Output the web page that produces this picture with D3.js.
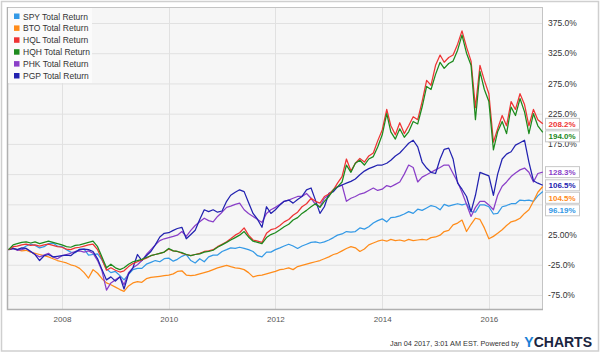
<!DOCTYPE html>
<html>
<head>
<meta charset="utf-8">
<script src="https://cdn.jsdelivr.net/npm/d3@7"></script>
<style>
  html, body { margin: 0; padding: 0; background: #fff; }
  svg { display: block; font-family: "Liberation Sans", Arial, sans-serif; }
</style>
</head>
<body>
<div id="chart"></div>
<script>
// Monthly total return (%) from Jan 2007, last point Jan 04 2017
const seriesNames = ['SPY', 'BTO', 'HQL', 'HQH', 'PHK', 'PGP'];
const seriesColors = ['#3399e6', '#ff8c1a', '#ee3434', '#1d8a1d', '#8a3fc8', '#2222b0'];

const spy = [
  0, 2, 0, 1, 6, 9, 7, 3, 5, 10, 11, 6,
  5, 0, -4, -5, 1, 1, -9, -8, -7, -17, -32, -38,
  -36, -43, -50, -41, -33, -31, -31, -24, -21, -18, -20, -15,
  -14, -19, -16, -11, -8, -18, -22, -15, -20, -12, -9, -9,
  -3, 0, 3, 2, 4, 2, 0, -3, -10, -12, -4, -4,
  0, 3, 6, 9, 6, 2, 6, 9, 12, 13, 11, 13,
  16, 20, 24, 26, 30, 29, 30, 36, 34, 38, 44, 48,
  51, 46, 53, 54, 56, 59, 63, 60, 67, 65, 69, 73,
  71, 66, 75, 72, 74, 76, 74, 76, 63, 62, 74, 74,
  71, 59, 60, 71, 73, 76, 76, 82, 81, 82, 80, 89,
  96.19
];
const bto = [
  0, 2, 0, -2, -1, -4, -6, -8, -10, -12, -15, -18,
  -20, -22, -25, -27, -31, -38, -47, -33, -39, -48, -55, -58,
  -62, -66, -69, -60, -55, -53, -54, -48, -46, -45, -44, -43,
  -42, -40, -36, -35, -42, -43, -42, -40, -38, -36, -33, -30,
  -28, -26, -28, -30, -31, -33, -38, -45, -43, -42, -40, -38,
  -36, -33, -32, -30, -33, -28, -26, -24, -22, -20, -18, -15,
  -12, -8, -6, -2, 2, 5, 3, -3, 1, 8, 11, 14,
  16, 14, 17, 15, 16, 14, 17, 15, 16, 17, 16, 20,
  21, 24, 30, 32, 41, 44, 49, 30, 42, 52, 50, 36,
  18, 22, 27, 33, 40, 46, 48, 52, 60, 66, 80, 95,
  104.5
];
const hql = [
  0, 5, 6, 8, 9, 7, 8, 6, 8, 9, 7, 5,
  4, 1, 0, 3, 4, 6, 8, 9, 0, -16, -34, -30,
  -34, -37, -35, -28, -23, -20, -17, -14, -10, -8, -6, -4,
  1, -2, -3, -6, -8, -10, -8, -6, -3, -2, 0, 5,
  9, 13, 18, 24, 28, 36, 24, 16, 14, 12, 27, 33,
  35, 40, 46, 50, 57, 62, 71, 76, 85, 80, 77, 88,
  92, 99, 110, 121, 150, 130, 143, 151, 145, 155, 160, 180,
  198, 232, 205, 190, 210, 192, 205, 220, 215, 245, 280, 272,
  305, 322, 310, 318, 322, 340, 362, 335, 312, 235, 305, 280,
  258, 178, 200, 222, 205, 245, 232, 258, 240, 205, 232, 215,
  208.2
];
const hqh = [
  0, 8, 10, 12, 13, 11, 13, 10, 12, 14, 12, 10,
  8, 5, 4, 7, 8, 10, 12, 14, 5, -12, -30, -24,
  -30, -33, -30, -24, -20, -18, -16, -13, -10, -8, -6, -4,
  2, -2, -3, -5, -8, -10, -8, -7, -4, -3, -1, 4,
  8, 12, 16, 20, 24, 30, 21, 14, 12, 10, 20, 25,
  28, 33, 38, 42, 49, 53, 60, 65, 71, 76, 70, 80,
  88, 99, 104, 112, 140, 128, 143, 148, 140, 150, 154, 170,
  190, 225, 195, 183, 200, 186, 195, 212, 208, 236, 270, 265,
  290, 310, 300, 308, 312, 330, 355, 325, 305, 215, 295, 265,
  245, 165, 195, 212, 192, 236, 222, 250, 228, 192, 225, 205,
  194.0
];
const phk = [
  0, 2, -1, 0, 2, -3, -8, -12, -9, -6, -12, -15,
  -10, -8, -6, -3, -2, -4, -2, -6, -18, -35, -67, -55,
  -50, -45, -58, -38, -30, -25, -18, -8, 0, 8, 15, 18,
  20, 22, 24, 30, 22, 32, 40, 46, 52, 48, 46, 55,
  62, 70, 72, 75, 77, 66, 60, 55, 50, 45, 60, 66,
  70, 75, 80, 82, 85, 88, 88, 93, 85, 75, 71, 85,
  90, 99, 104, 107, 80, 85, 88, 92, 94, 98, 102, 98,
  100, 106, 104, 108, 112, 125, 140, 136, 112, 120, 124, 128,
  132, 136, 140, 140, 126, 112, 95, 75, 55, 70, 80, 80,
  74, 66, 90, 105, 112, 121, 127, 132, 135, 128, 112, 126,
  128.3
];
const pgp = [
  0, 2, 0, 3, 2, -3, -8, -18, -10, -8, -12, -11,
  -10, -9, -10, -4, 0, 1, 0, -3, -15, -33, -50, -45,
  -52, -45, -65, -40, -30, -8, -18, -10, -3, 8, 21, 27,
  28, 32, 35, 37, 18, 25, 32, 50, 66, 63, 66, 62,
  64, 80, 90, 95, 99, 96, 78, 60, 50, 37, 71, 60,
  66, 74, 80, 82, 77, 83, 88, 99, 102, 82, 60, 71,
  93, 96, 104, 107, 110, 113, 117, 124, 130, 134, 137, 140,
  140, 143, 148, 155, 160, 168, 176, 181, 170, 145, 135, 128,
  126, 150, 166, 168, 150, 110, 100, 88, 63, 90, 128, 125,
  122, 90, 125, 150, 158, 162, 173, 177, 181, 145, 114, 110,
  106.5
];
const endLabels = ['96.19%', '104.5%', '208.2%', '194.0%', '128.3%', '106.5%'];

// grid lines every 50%; the 75% and 125% labels sit under the end-value boxes
const yTicks = [-75, -25, 25, 75, 125, 175, 225, 275, 325, 375];
const yLabelTicks = [-75, -25, 25, 175, 225, 275, 325, 375];
const yTickLabels = ['-75.0%', '-25.0%', '25.00%', '175.0%', '225.0%', '275.0%', '325.0%', '375.0%'];
const xTickYears = [2008, 2010, 2012, 2014, 2016];

const startDate = new Date(2007, 0, 1);
const endDate = new Date(2017, 0, 4);

const W = 600, H = 353;
const plot = { left: 7, right: 543, top: 7, bottom: 310 };

const allValues = [spy, bto, hql, hqh, phk, pgp];
const dates = spy.map((_, i) => (i === spy.length - 1 ? endDate : d3.timeMonth.offset(startDate, i)));

const x = d3.scaleTime().domain([startDate, endDate]).range([8.6, 542.8]);
const y = d3.scaleLinear().domain([-75, 375]).range([295, 23]);

const svg = d3.select('#chart').append('svg').attr('width', W).attr('height', H);

// outer frame
svg.append('rect')
  .attr('x', 1.5).attr('y', 1.5).attr('width', W - 3).attr('height', H - 3.5)
  .attr('fill', '#fff').attr('stroke', '#cfcfcf').attr('stroke-width', 1.5);

// plot background
svg.append('rect')
  .attr('x', plot.left).attr('y', plot.top)
  .attr('width', plot.right - plot.left).attr('height', plot.bottom - plot.top)
  .attr('fill', '#f6f6f6');

// grid
const xTickDates = xTickYears.map((yr) => new Date(yr, 0, 1));
svg.append('g')
  .selectAll('line')
  .data(yTicks)
  .join('line')
  .attr('x1', plot.left).attr('x2', plot.right)
  .attr('y1', (d) => y(d) + 0.5).attr('y2', (d) => y(d) + 0.5)
  .attr('stroke', '#e1e1e1').attr('stroke-width', 1);
svg.append('g')
  .selectAll('line')
  .data(xTickDates)
  .join('line')
  .attr('x1', (d) => Math.round(x(d)) + 0.5).attr('x2', (d) => Math.round(x(d)) + 0.5)
  .attr('y1', plot.top).attr('y2', plot.bottom)
  .attr('stroke', '#e1e1e1').attr('stroke-width', 1);

// plot border
svg.append('rect')
  .attr('x', plot.left + 0.5).attr('y', plot.top + 0.5)
  .attr('width', plot.right - plot.left - 1).attr('height', plot.bottom - plot.top - 1)
  .attr('fill', 'none').attr('stroke', '#c4c4c4').attr('stroke-width', 1);
svg.append('path')
  .attr('d', `M${plot.left + 0.5},${plot.top}V${plot.bottom - 0.5}H${plot.right}`)
  .attr('fill', 'none').attr('stroke', '#b0b0b0').attr('stroke-width', 1.5);

// axes
svg.append('g')
  .attr('transform', `translate(0,${plot.bottom})`)
  .call(d3.axisBottom(x).tickValues(xTickDates).tickFormat(d3.timeFormat('%Y')).tickSize(0).tickPadding(6))
  .call((g) => g.select('.domain').remove())
  .call((g) => g.selectAll('text').attr('fill', '#555').style('font-size', '8px'));

svg.append('g')
  .attr('transform', `translate(${plot.right + 2},0)`)
  .call(d3.axisRight(y).tickValues(yLabelTicks).tickFormat((d, i) => yTickLabels[i]).tickSize(0).tickPadding(3))
  .call((g) => g.select('.domain').remove())
  .call((g) => g.selectAll('text').attr('fill', '#333').style('font-size', '8.5px'));

// lines
const line = d3.line().x((d, i) => x(dates[i])).y((d) => y(d));
const drawOrder = [0, 1, 4, 5, 2, 3];
svg.append('g')
  .selectAll('path')
  .data(drawOrder)
  .join('path')
  .attr('d', (k) => line(allValues[k]))
  .attr('fill', 'none')
  .attr('stroke', (k) => seriesColors[k])
  .attr('stroke-width', 1.25)
  .attr('stroke-linejoin', 'round');

// end value boxes, pushed apart so they do not overlap
const boxes = allValues
  .map((vals, k) => ({ k, y: y(vals[vals.length - 1]) }))
  .sort((a, b) => a.y - b.y);
const gap = 12.5;
for (let i = 1; i < boxes.length; i++) {
  if (boxes[i].y - boxes[i - 1].y < gap) boxes[i].y = boxes[i - 1].y + gap;
}
const boxG = svg.append('g')
  .selectAll('g')
  .data(boxes)
  .join('g')
  .attr('transform', (d) => `translate(${plot.right + 2},${d.y})`);
boxG.append('rect')
  .attr('x', 0.5).attr('y', -5.5).attr('width', 34).attr('height', 11)
  .attr('fill', '#fff').attr('stroke', '#c8c8c8').attr('stroke-width', 1);
boxG.append('text')
  .attr('x', 3.5).attr('y', 3)
  .attr('fill', (d) => seriesColors[d.k])
  .style('font-size', '8px')
  .style('font-weight', 700)
  .text((d) => endLabels[d.k]);

// legend
const legend = svg.append('g');
legend.append('rect')
  .attr('x', plot.left + 1).attr('y', plot.top + 1).attr('width', 84).attr('height', 75)
  .attr('fill', '#fbfbfb');
const items = legend.selectAll('g.item')
  .data(seriesNames)
  .join('g')
  .attr('class', 'item')
  .attr('transform', (d, i) => `translate(14,${16.5 + i * 11.9})`);
items.append('rect')
  .attr('x', 0).attr('y', -3).attr('width', 5.5).attr('height', 5.5)
  .attr('fill', (d, i) => seriesColors[i]);
items.append('text')
  .attr('x', 9).attr('y', 3)
  .attr('fill', '#333')
  .style('font-size', '8.5px')
  .text((d) => `${d} Total Return`);

// footer
svg.append('text')
  .attr('x', 519).attr('y', 345.5)
  .attr('text-anchor', 'end')
  .attr('fill', '#333')
  .style('font-size', '7.3px')
  .text('Jan 04 2017, 3:01 AM EST.  Powered by');
const brand = svg.append('text')
  .attr('x', 592).attr('y', 346.5)
  .attr('text-anchor', 'end')
  .style('font-size', '14px')
  .style('font-weight', 700);
brand.append('tspan').attr('fill', '#1b7fd6').text('Y');
brand.append('tspan').attr('fill', '#1a2540').text('CHARTS');
</script>
</body>
</html>
